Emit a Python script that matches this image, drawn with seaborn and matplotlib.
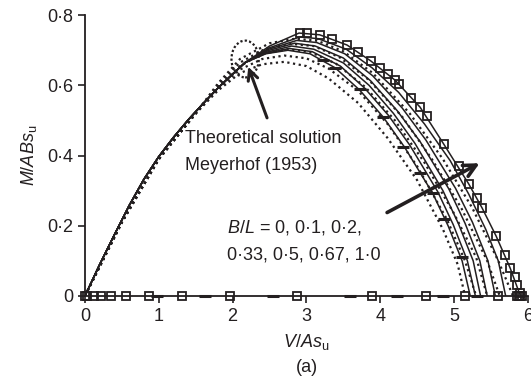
import matplotlib
matplotlib.use("Agg")
import matplotlib.pyplot as plt
from matplotlib.patches import Ellipse
import seaborn as sns

# shared rising branch (all curves lie on top of each other here)
rise_v = [0, 0.2, 0.4, 0.6, 0.8, 1.0, 1.2, 1.4, 1.6, 1.8, 2.0, 2.17]
rise_m = [0, 0.09, 0.175, 0.258, 0.333, 0.397, 0.452, 0.502, 0.548, 0.592, 0.632, 0.665]

# numerical envelopes, B/L = 0, 0.1, 0.2, 0.33, 0.5, 0.67, 1.0
bl_values = ["0", "0.1", "0.2", "0.33", "0.5", "0.67", "1.0"]
fall_v = [
    [2.45, 2.75, 3.05, 3.39, 3.72, 4.04, 4.33, 4.71, 4.92, 5.11, 5.22],
    [2.46, 2.77, 3.08, 3.46, 3.79, 4.11, 4.40, 4.78, 4.99, 5.18, 5.29],
    [2.47, 2.80, 3.10, 3.50, 3.85, 4.18, 4.47, 4.85, 5.06, 5.26, 5.36],
    [2.48, 2.84, 3.12, 3.50, 3.87, 4.23, 4.54, 4.93, 5.15, 5.35, 5.45],
    [2.49, 2.87, 3.14, 3.52, 3.90, 4.30, 4.62, 5.02, 5.25, 5.46, 5.56],
    [2.50, 2.91, 3.16, 3.54, 3.89, 4.25, 4.60, 4.95, 5.20, 5.43, 5.60, 5.70],
    [2.50, 2.90, 3.18, 3.55, 3.87, 4.20, 4.54, 4.86, 5.20, 5.38, 5.57, 5.76, 5.90],
]
fall_m = [
    [0.690, 0.700, 0.690, 0.650, 0.587, 0.510, 0.424, 0.293, 0.200, 0.100, 0],
    [0.692, 0.705, 0.696, 0.655, 0.592, 0.515, 0.430, 0.297, 0.203, 0.101, 0],
    [0.695, 0.712, 0.703, 0.664, 0.600, 0.520, 0.435, 0.300, 0.206, 0.100, 0],
    [0.699, 0.720, 0.712, 0.678, 0.613, 0.528, 0.440, 0.305, 0.207, 0.100, 0],
    [0.703, 0.728, 0.722, 0.690, 0.627, 0.535, 0.444, 0.307, 0.210, 0.100, 0],
    [0.707, 0.738, 0.733, 0.703, 0.650, 0.580, 0.490, 0.385, 0.290, 0.190, 0.100, 0],
    [0.712, 0.749, 0.744, 0.715, 0.670, 0.615, 0.538, 0.433, 0.319, 0.251, 0.171, 0.080, 0],
]

# Meyerhof (1953) theoretical curves (dotted)
theory_v = [
    [0, 0.5, 1.0, 1.5, 1.8, 2.1, 2.4, 2.7, 3.0, 3.3, 3.7, 4.1, 4.5, 4.85, 5.05, 5.15],
    [0, 0.5, 1.0, 1.5, 1.8, 2.1, 2.4, 2.7, 3.0, 3.3, 3.7, 4.1, 4.5, 4.9, 5.15, 5.30],
    [0, 0.5, 1.0, 1.5, 1.8, 2.1, 2.4, 2.75, 3.05, 3.4, 3.8, 4.2, 4.6, 5.0, 5.3, 5.45],
    [0, 0.5, 1.0, 1.5, 1.8, 2.1, 2.45, 2.8, 3.1, 3.45, 3.85, 4.3, 4.7, 5.1, 5.45, 5.62],
    [0, 0.5, 1.0, 1.5, 1.8, 2.1, 2.5, 2.85, 3.15, 3.5, 3.9, 4.4, 4.85, 5.25, 5.6, 5.80],
]
theory_m = [
    [0, 0.21, 0.39, 0.52, 0.585, 0.635, 0.660, 0.667, 0.655, 0.620, 0.550, 0.450, 0.330, 0.190, 0.090, 0],
    [0, 0.21, 0.39, 0.52, 0.590, 0.645, 0.675, 0.685, 0.677, 0.648, 0.585, 0.490, 0.370, 0.220, 0.100, 0],
    [0, 0.21, 0.39, 0.52, 0.595, 0.655, 0.690, 0.703, 0.695, 0.662, 0.595, 0.500, 0.380, 0.235, 0.110, 0],
    [0, 0.21, 0.39, 0.52, 0.600, 0.665, 0.705, 0.718, 0.712, 0.680, 0.615, 0.510, 0.390, 0.250, 0.100, 0],
    [0, 0.21, 0.39, 0.52, 0.605, 0.675, 0.720, 0.733, 0.727, 0.697, 0.635, 0.520, 0.390, 0.250, 0.100, 0],
]

# square symbols (B/L = 1.0 results)
sq_v = [2.91, 3.01, 3.18, 3.35, 3.55, 3.70, 3.87, 4.00, 4.10, 4.20, 4.25, 4.42, 4.54, 4.63,
        4.86, 5.07, 5.20, 5.31, 5.38, 5.57, 5.69, 5.76, 5.82, 5.86, 5.89]
sq_m = [0.749, 0.749, 0.744, 0.732, 0.715, 0.695, 0.670, 0.650, 0.632, 0.615, 0.604, 0.564,
        0.538, 0.513, 0.433, 0.370, 0.319, 0.279, 0.251, 0.171, 0.117, 0.080, 0.054, 0.031, 0.009]

# dash symbols (B/L = 0 results)
dash_v = [3.22, 3.39, 3.72, 4.04, 4.31, 4.54, 4.71, 4.87, 5.11]
dash_m = [0.672, 0.650, 0.590, 0.510, 0.425, 0.350, 0.293, 0.220, 0.111]

# pure vertical load points on the axis
axis_sq_v = [0, 0.03, 0.12, 0.22, 0.35, 0.56, 0.87, 1.31, 1.96, 2.87, 3.89, 4.62, 5.15,
             5.59, 5.85, 5.88, 5.90, 5.92]
axis_dash_v = [0.97, 1.63, 2.55, 3.59, 4.23, 4.85, 5.31]

ink = "#231f20"

sns.set_style("ticks")
plt.rcParams["font.family"] = ["Liberation Sans", "DejaVu Sans"]
plt.rcParams["mathtext.fontset"] = "custom"
plt.rcParams["mathtext.rm"] = "Liberation Sans"
plt.rcParams["mathtext.it"] = "Liberation Sans:italic"
plt.rcParams["font.size"] = 13

fig = plt.figure(figsize=(5.31, 3.79), dpi=100)
ax = fig.add_axes([0.160, 0.219, 0.834, 0.741])

for fv, fm in zip(theory_v, theory_m):
    sns.lineplot(x=fv, y=fm, ax=ax, color=ink, lw=1.6, ls=(0, (1, 1.6)),
                 sort=False, estimator=None)

for fv, fm in zip(fall_v, fall_m):
    sns.lineplot(x=rise_v + fv, y=rise_m + fm, ax=ax, color=ink, lw=1.1,
                 sort=False, estimator=None)

ax.plot(sq_v, sq_m, ls="none", marker="s", ms=6, mfc="none", mec=ink, mew=1.3, clip_on=False)
ax.plot(dash_v, dash_m, ls="none", marker="_", ms=8, mec=ink, mew=2.2, clip_on=False)
ax.plot(axis_sq_v, [0] * len(axis_sq_v), ls="none", marker="s", ms=6, mfc="none",
        mec=ink, mew=1.3, clip_on=False)
ax.plot(axis_dash_v, [0] * len(axis_dash_v), ls="none", marker="_", ms=9, mec=ink,
        mew=2.2, clip_on=False)

ax.add_patch(Ellipse((2.17, 0.675), 0.37, 0.105, fill=False, ec=ink, lw=1.6, ls=(0, (1, 1))))
ax.annotate("", xy=(2.20, 0.66), xytext=(2.48, 0.50),
            arrowprops=dict(arrowstyle="->", lw=2.2, color=ink, mutation_scale=18))
ax.annotate("", xy=(5.38, 0.382), xytext=(4.06, 0.234),
            arrowprops=dict(arrowstyle="->", lw=2.6, color=ink, mutation_scale=22))

ax.text(1.36, 0.45, "Theoretical solution", ha="left", va="center", color=ink)
ax.text(1.36, 0.373, "Meyerhof (1953)", ha="left", va="center", color=ink)
ax.text(1.92, 0.194, r"$\mathit{B/L}$ = 0, 0·1, 0·2,", ha="left", va="center", color=ink)
ax.text(1.92, 0.117, "0·33, 0·5, 0·67, 1·0", ha="left", va="center", color=ink)

ax.set_xlim(0, 6)
ax.set_ylim(0, 0.8)
ax.set_xticks(range(7))
ax.set_xticklabels([str(i) for i in range(7)])
ax.set_yticks([0, 0.2, 0.4, 0.6, 0.8])
ax.set_yticklabels(["0", "0·2", "0·4", "0·6", "0·8"])
ax.tick_params(direction="out", length=5, width=1.2, colors=ink, labelcolor=ink, labelsize=13)
for s in ["left", "bottom"]:
    ax.spines[s].set_linewidth(1.3)
    ax.spines[s].set_color(ink)
sns.despine(ax=ax)

ax.set_xlabel(r"$\mathit{V/As}_\mathrm{u}$", fontsize=13, color=ink, labelpad=5)
ax.set_ylabel(r"$\mathit{M/ABs}_\mathrm{u}$", fontsize=13, color=ink, labelpad=6)
fig.text(0.578, 0.03, "(a)", ha="center", va="center", fontsize=13, color=ink)

fig.savefig("out.png", dpi=100)
